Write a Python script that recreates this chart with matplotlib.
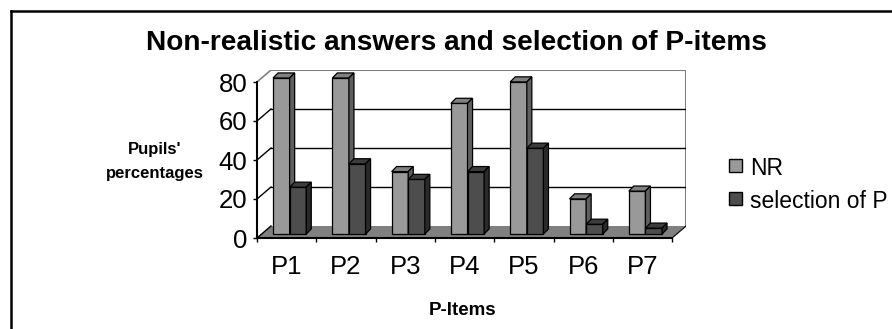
import matplotlib
matplotlib.use("Agg")
import matplotlib.pyplot as plt
from matplotlib.patches import Polygon, Rectangle
from matplotlib.lines import Line2D

# data
items = ["P1", "P2", "P3", "P4", "P5", "P6", "P7"]
series = ["NR", "selection of P"]
nr = [80, 80, 32, 67, 78, 18, 22]
sel_p = [24, 36, 28, 32, 44, 5, 3]
yticks = [0, 20, 40, 60, 80]

W, H = 892, 329
plt.rcParams['font.family'] = ['Liberation Sans', 'DejaVu Sans']
fig = plt.figure(figsize=(W / 100, H / 100), dpi=100)

def fx(px):
    return px / W

def fy(py):
    return 1 - py / H

# 3D look parameters (in data units)
dx, dy = 0.236, 6.15      # wall depth
bdx, bdy = 0.085, 2.6     # bar depth
oy = 2.05                 # bar base above front floor line
bw = 0.28
xoff = [0.27, 0.55]
front_cols = ["#999999", "#4d4d4d"]
top_cols = ["#808080", "#3c3c3c"]
side_cols = ["#5f5f5f", "#2a2a2a"]

ncat = len(items)
x0px, y0px = 257, 238
cat_px, unit_px = 59.3, 1.95
right_px = x0px + (ncat + dx) * cat_px
top_px = y0px - (80 + dy) * unit_px
ax = fig.add_axes([fx(x0px), fy(y0px), (right_px - x0px) / W, (y0px - top_px) / H])
ax.set_xlim(0, ncat + dx)
ax.set_ylim(0, 80 + dy)
for s in ax.spines.values():
    s.set_visible(False)
ax.patch.set_visible(False)

# floor
ax.add_patch(Polygon([(0, 0), (ncat, 0), (ncat + dx, dy), (dx, dy)], closed=True,
                     facecolor="#808080", edgecolor="none", zorder=1))
ax.plot([ncat, ncat + dx], [0, dy], color="black", lw=0.8, zorder=1.5)
# back wall border
ax.plot([dx, ncat + dx], [80 + dy, 80 + dy], color="#808080", lw=1.5, zorder=1)
ax.plot([ncat + dx, ncat + dx], [dy, 80 + dy], color="#808080", lw=1.5, zorder=1)
ax.plot([0, dx], [80, 80 + dy], color="#808080", lw=1.2, zorder=1)
# gridlines on wall and side
for v in yticks[1:-1]:
    ax.plot([dx, ncat + dx], [v + dy, v + dy], color="black", lw=1.0, zorder=1)
    ax.plot([0, dx], [v, v + dy], color="black", lw=1.0, zorder=1)
ax.plot([0, dx], [0, dy], color="black", lw=1.0, zorder=1)

# bars
for i in range(ncat):
    for s, vals in enumerate([nr, sel_p]):
        v = vals[i]
        x0 = i + xoff[s]
        kw = dict(closed=True, edgecolor="black", lw=0.9, zorder=3 + i * 0.1 + s * 0.01)
        ax.add_patch(Polygon([(x0, oy), (x0 + bw, oy), (x0 + bw, oy + v), (x0, oy + v)],
                             facecolor=front_cols[s], **kw))
        ax.add_patch(Polygon([(x0, oy + v), (x0 + bw, oy + v), (x0 + bw + bdx, oy + v + bdy),
                              (x0 + bdx, oy + v + bdy)], facecolor=top_cols[s], **kw))
        ax.add_patch(Polygon([(x0 + bw, oy), (x0 + bw + bdx, oy + bdy), (x0 + bw + bdx, oy + v + bdy),
                              (x0 + bw, oy + v)], facecolor=side_cols[s], **kw))

# axes lines
ax.plot([0, ncat], [0, 0], color="black", lw=1.5, zorder=5, clip_on=False)
ax.plot([0, 0], [0, 80], color="black", lw=1.5, zorder=5, clip_on=False)

ax.set_yticks(yticks)
ax.set_yticklabels([str(t) for t in yticks], fontsize=18.5)
ax.tick_params(axis="y", length=3, width=1, pad=4)
ax.set_xticks(range(ncat + 1))
ax.set_xticklabels([])
ax.set_xticks([i + 0.5 for i in range(ncat)], minor=True)
ax.set_xticklabels(items, minor=True, fontsize=18.5)
ax.tick_params(axis="x", which="major", length=3, width=1)
ax.tick_params(axis="x", which="minor", length=0, pad=12)

# texts
fig.text(fx(456), fy(50), "Non-realistic answers and selection of P-items",
         ha="center", va="baseline", fontsize=20.2, fontweight="bold")
fig.text(fx(155), fy(154), "Pupils'", ha="center", va="baseline", fontsize=12, fontweight="bold")
fig.text(fx(155), fy(178), "percentages", ha="center", va="baseline", fontsize=12, fontweight="bold")
fig.text(fx(463), fy(315), "P-Items", ha="center", va="baseline", fontsize=13.5, fontweight="bold")

# legend
for s, (name, base) in enumerate(zip(series, [175, 208])):
    fig.add_artist(Rectangle((fx(729), fy(base - 3)), 13 / W, 13 / H, transform=fig.transFigure,
                             facecolor=front_cols[s], edgecolor="black", lw=1.0))
    fig.text(fx(750), fy(base), name, ha="left", va="baseline", fontsize=16.5)

# outer frame (left and top edges)
fig.add_artist(Line2D([fx(11), fx(11)], [fy(11), 0], color="black", lw=1.8, transform=fig.transFigure))
fig.add_artist(Line2D([fx(11), 1], [fy(11), fy(11)], color="black", lw=1.8, transform=fig.transFigure))

fig.savefig("out.png", dpi=100)
